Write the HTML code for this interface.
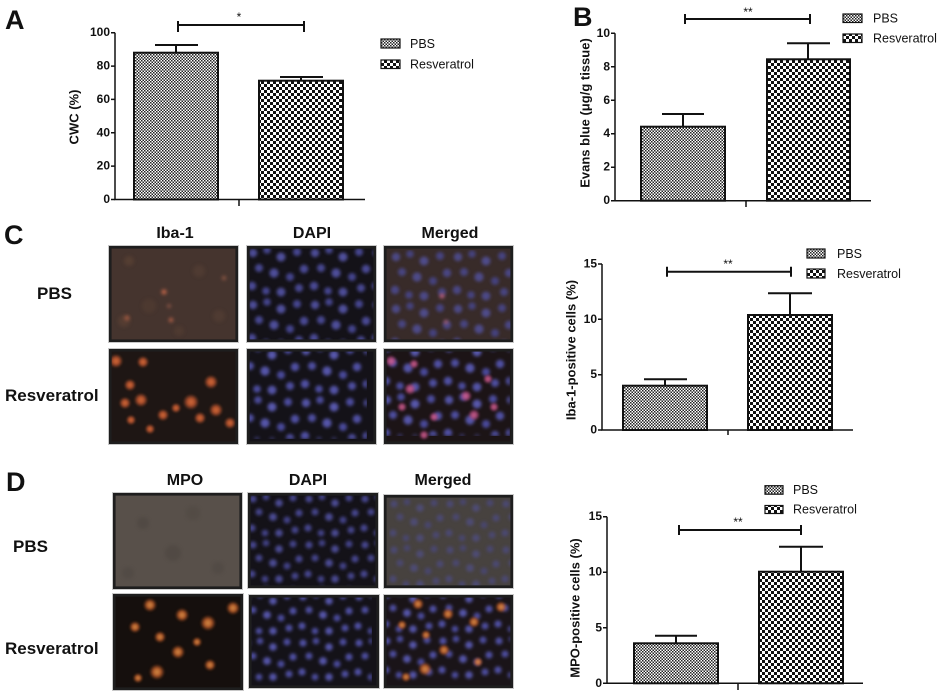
<!DOCTYPE html>
<html><head><meta charset="utf-8"><style>
html,body{margin:0;padding:0;background:#fff;}
svg{display:block;font-family:"Liberation Sans",Arial,sans-serif;}
.t{font-size:12px;font-weight:bold;fill:#111;}
.lg{font-size:12.5px;fill:#111;}
.yl{font-size:13px;font-weight:bold;fill:#111;}
.pl{font-size:27px;font-weight:bold;fill:#111;}
.hd{font-size:16px;font-weight:bold;fill:#111;}
.rl{font-size:17px;font-weight:bold;fill:#111;}
.ax{stroke:#111;stroke-width:1.5;fill:none;}
.eb{stroke:#111;stroke-width:2;fill:none;}
</style></head><body>
<svg width="942" height="697" viewBox="0 0 942 697" xmlns="http://www.w3.org/2000/svg">
<defs>
<pattern id="pbs" width="3" height="3" patternUnits="userSpaceOnUse">
<rect width="3" height="3" fill="#fff"/><rect width="1.5" height="1.5" fill="#222"/><rect x="1.5" y="1.5" width="1.5" height="1.5" fill="#222"/>
</pattern>
<pattern id="res" width="6" height="6" patternUnits="userSpaceOnUse">
<rect width="6" height="6" fill="#fff"/><rect width="3" height="3" fill="#111"/><rect x="3" y="3" width="3" height="3" fill="#111"/>
</pattern>
<pattern id="dots" width="62" height="52" patternUnits="userSpaceOnUse">
<circle cx="6" cy="7" r="4.2" fill="#5252a4"/><circle cx="20" cy="4" r="3.8" fill="#4a4a98"/>
<circle cx="34" cy="11" r="4.5" fill="#5656aa"/><circle cx="50" cy="6" r="4" fill="#4c4c9c"/>
<circle cx="57" cy="23" r="4.2" fill="#5050a2"/><circle cx="12" cy="22" r="4" fill="#4e4e9e"/>
<circle cx="27" cy="27" r="4.6" fill="#5454a8"/><circle cx="43" cy="31" r="4" fill="#4a4a9a"/>
<circle cx="5" cy="40" r="4.2" fill="#5050a2"/><circle cx="19" cy="45" r="3.8" fill="#4c4c9c"/>
<circle cx="34" cy="46" r="4.4" fill="#5252a6"/><circle cx="52" cy="42" r="4" fill="#4e4e9e"/>
</pattern>
<pattern id="dots2" width="56" height="46" patternUnits="userSpaceOnUse">
<circle cx="5" cy="6" r="3.6" fill="#5050a2"/><circle cx="18" cy="4" r="3.3" fill="#4a4a98"/>
<circle cx="31" cy="10" r="3.8" fill="#5454a8"/><circle cx="45" cy="5" r="3.5" fill="#4c4c9c"/>
<circle cx="51" cy="20" r="3.6" fill="#5050a2"/><circle cx="11" cy="19" r="3.5" fill="#4e4e9e"/>
<circle cx="25" cy="24" r="3.9" fill="#5454a8"/><circle cx="39" cy="27" r="3.5" fill="#4a4a9a"/>
<circle cx="4" cy="35" r="3.6" fill="#5050a2"/><circle cx="17" cy="40" r="3.3" fill="#4c4c9c"/>
<circle cx="31" cy="40" r="3.8" fill="#5252a6"/><circle cx="47" cy="37" r="3.5" fill="#4e4e9e"/>
</pattern>
<filter id="bl" x="0" y="0" width="100%" height="100%"><feGaussianBlur stdDeviation="1.5"/></filter>
<filter id="bl2" x="-50%" y="-50%" width="200%" height="200%"><feGaussianBlur stdDeviation="1.8"/></filter>
<filter id="bl3" x="-50%" y="-50%" width="200%" height="200%"><feGaussianBlur stdDeviation="1"/></filter>
<radialGradient id="or"><stop offset="0" stop-color="#f07840"/><stop offset="0.45" stop-color="#c85a30"/><stop offset="1" stop-color="#c85a30" stop-opacity="0"/></radialGradient>
<radialGradient id="pk"><stop offset="0" stop-color="#f070a0"/><stop offset="0.45" stop-color="#c05088"/><stop offset="1" stop-color="#c05088" stop-opacity="0"/></radialGradient>
<radialGradient id="or2"><stop offset="0" stop-color="#f0a050"/><stop offset="0.45" stop-color="#d06a30"/><stop offset="1" stop-color="#b04c20" stop-opacity="0"/></radialGradient>
</defs>

<!-- ================= Panel A ================= -->
<text class="pl" x="5" y="29">A</text>
<rect x="134" y="52.7" width="84" height="146.8" fill="url(#pbs)" stroke="#111" stroke-width="2"/>
<rect x="259" y="80.7" width="84" height="118.8" fill="url(#res)" stroke="#111" stroke-width="2"/>
<path class="eb" d="M176 52.7V45M155 45H198M301 80.7V77M280 77H323"/>
<path class="ax" d="M115 32.7V199.5H365M239 199.5V206"/>
<path class="ax" d="M111 32.7H115M111 66.1H115M111 99.4H115M111 132.8H115M111 166.1H115M111 199.5H115"/>
<g class="t" text-anchor="end" dominant-baseline="middle">
<text x="110" y="33">100</text><text x="110" y="66.5">80</text><text x="110" y="99.8">60</text>
<text x="110" y="133.2">40</text><text x="110" y="166.5">20</text><text x="110" y="199.8">0</text>
</g>
<text class="yl" transform="translate(75,117) rotate(-90)" text-anchor="middle" dominant-baseline="middle">CWC (%)</text>
<path class="eb" d="M178 25H304M178 21V32M304 21V32"/>
<text x="239" y="21" text-anchor="middle" font-size="12" fill="#111">*</text>
<rect x="381" y="39" width="19" height="9" fill="url(#pbs)" stroke="#111" stroke-width="1.2"/>
<rect x="381" y="60" width="19" height="8.5" fill="url(#res)" stroke="#111" stroke-width="1.2"/>
<text class="lg" x="410" y="48">PBS</text>
<text class="lg" x="410" y="68.5">Resveratrol</text>

<!-- ================= Panel B ================= -->
<text class="pl" x="573" y="26">B</text>
<rect x="641" y="126.7" width="84" height="74" fill="url(#pbs)" stroke="#111" stroke-width="2"/>
<rect x="767" y="59.3" width="83" height="141.4" fill="url(#res)" stroke="#111" stroke-width="2"/>
<path class="eb" d="M683 126.7V114M662 114H704M808 59.3V43.3M787 43.3H830"/>
<path class="ax" d="M615 33.3V200.7H871M746 200.7V207"/>
<path class="ax" d="M611 33.3H615M611 66.8H615M611 100.3H615M611 133.7H615M611 167.2H615M611 200.7H615"/>
<g class="t" text-anchor="end" dominant-baseline="middle">
<text x="610" y="33.6">10</text><text x="610" y="67.1">8</text><text x="610" y="100.6">6</text>
<text x="610" y="134">4</text><text x="610" y="167.5">2</text><text x="610" y="201">0</text>
</g>
<text class="yl" transform="translate(586,113) rotate(-90)" text-anchor="middle" dominant-baseline="middle">Evans blue (μg/g tissue)</text>
<path class="eb" d="M685 19H810M685 14V24M810 14V24"/>
<text x="748" y="16" text-anchor="middle" font-size="12" fill="#111">**</text>
<rect x="843" y="14" width="19" height="8.5" fill="url(#pbs)" stroke="#111" stroke-width="1.2"/>
<rect x="843" y="34" width="19" height="8.5" fill="url(#res)" stroke="#111" stroke-width="1.2"/>
<text class="lg" x="873" y="22.5">PBS</text>
<text class="lg" x="873" y="42.5">Resveratrol</text>

<!-- ================= Panel C chart ================= -->
<rect x="623" y="385.7" width="84" height="44.3" fill="url(#pbs)" stroke="#111" stroke-width="2"/>
<rect x="748" y="315" width="84" height="115" fill="url(#res)" stroke="#111" stroke-width="2"/>
<path class="eb" d="M665 385.7V379.3M644 379.3H687M790 315V293.3M768 293.3H812"/>
<path class="ax" d="M602 264V430H853M728 430V435"/>
<path class="ax" d="M598 264H602M598 319.3H602M598 374.7H602M598 430H602"/>
<g class="t" text-anchor="end" dominant-baseline="middle">
<text x="597" y="264.3">15</text><text x="597" y="319.6">10</text><text x="597" y="375">5</text><text x="597" y="430.3">0</text>
</g>
<text class="yl" transform="translate(572,350) rotate(-90)" text-anchor="middle" dominant-baseline="middle">Iba-1-positive cells (%)</text>
<path class="eb" d="M667 271.7H791M667 266.7V276.7M791 266.7V276.7"/>
<text x="728" y="268" text-anchor="middle" font-size="12" fill="#111">**</text>
<rect x="807" y="249" width="18" height="9" fill="url(#pbs)" stroke="#111" stroke-width="1.2"/>
<rect x="807" y="269" width="18" height="9" fill="url(#res)" stroke="#111" stroke-width="1.2"/>
<text class="lg" x="837" y="258">PBS</text>
<text class="lg" x="837" y="278">Resveratrol</text>

<!-- ================= Panel D chart ================= -->
<rect x="634" y="643.3" width="84" height="40" fill="url(#pbs)" stroke="#111" stroke-width="2"/>
<rect x="759" y="571.7" width="84" height="111.6" fill="url(#res)" stroke="#111" stroke-width="2"/>
<path class="eb" d="M676 643.3V635.7M655 635.7H697M801 571.7V546.7M779 546.7H823"/>
<path class="ax" d="M607 516.7V683.3H863M738 683.3V690"/>
<path class="ax" d="M603 516.7H607M603 572.2H607M603 627.8H607M603 683.3H607"/>
<g class="t" text-anchor="end" dominant-baseline="middle">
<text x="602" y="517">15</text><text x="602" y="572.5">10</text><text x="602" y="628.1">5</text><text x="602" y="683.6">0</text>
</g>
<text class="yl" transform="translate(576,608) rotate(-90)" text-anchor="middle" dominant-baseline="middle">MPO-positive cells (%)</text>
<path class="eb" d="M679 530H801M679 525V535M801 525V535"/>
<text x="738" y="526" text-anchor="middle" font-size="12" fill="#111">**</text>
<rect x="765" y="485.7" width="18" height="8.5" fill="url(#pbs)" stroke="#111" stroke-width="1.2"/>
<rect x="765" y="505.5" width="18" height="8" fill="url(#res)" stroke="#111" stroke-width="1.2"/>
<text class="lg" x="793" y="494">PBS</text>
<text class="lg" x="793" y="513.5">Resveratrol</text>

<!-- ================= Panel C images ================= -->
<text class="pl" x="4" y="244">C</text>
<g class="hd" text-anchor="middle">
<text x="175" y="238">Iba-1</text><text x="312" y="238">DAPI</text><text x="450" y="238">Merged</text>
</g>
<text class="rl" x="37" y="299">PBS</text>
<text class="rl" x="5" y="401">Resveratrol</text>

<!-- C Iba-1 PBS -->
<svg x="109" y="246" width="129" height="96" viewBox="0 0 129 96">
<rect width="129" height="96" fill="#45342e"/>
<g filter="url(#bl2)" opacity="0.6">
<circle cx="20" cy="15" r="5" fill="#5e4436"/><circle cx="90" cy="25" r="6" fill="#564034"/>
<circle cx="40" cy="60" r="7" fill="#533c32"/><circle cx="110" cy="70" r="6" fill="#564034"/>
<circle cx="70" cy="85" r="5" fill="#553e33"/><circle cx="15" cy="75" r="6" fill="#5e4236"/>
</g>
<g filter="url(#bl2)">
<circle cx="55" cy="46" r="2.5" fill="#c8684a"/><circle cx="62" cy="74" r="2.2" fill="#b86448"/>
<circle cx="18" cy="72" r="2.5" fill="#a05840"/><circle cx="60" cy="60" r="1.8" fill="#98584a"/>
<circle cx="115" cy="32" r="2" fill="#945a46"/>
</g>
</svg>
<!-- C DAPI PBS -->
<svg x="247" y="246" width="129" height="96" viewBox="0 0 129 96">
<rect width="129" height="96" fill="#141218"/>
<rect width="129" height="96" fill="url(#dots)" filter="url(#bl)" opacity="0.9"/>
</svg>
<!-- C Merged PBS -->
<svg x="384" y="246" width="129" height="96" viewBox="0 0 129 96">
<rect width="129" height="96" fill="#382b29"/>
<rect width="129" height="96" fill="url(#dots)" filter="url(#bl)" opacity="0.75" transform="translate(6,4)"/>
<g filter="url(#bl2)"><circle cx="58" cy="50" r="2.5" fill="#c0607a"/><circle cx="62" cy="76" r="2" fill="#b06070"/></g>
</svg>
<!-- C Iba-1 Resv -->
<svg x="109" y="349" width="129" height="95" viewBox="0 0 129 95">
<rect width="129" height="95" fill="#1e1614"/>
<g opacity="0.85" filter="url(#bl3)">
<circle cx="7" cy="12" r="7" fill="url(#or)"/><circle cx="34" cy="13" r="6" fill="url(#or)"/>
<circle cx="21" cy="36" r="6" fill="url(#or)"/><circle cx="32" cy="51" r="7" fill="url(#or)"/>
<circle cx="16" cy="54" r="6" fill="url(#or)"/><circle cx="54" cy="66" r="6" fill="url(#or)"/>
<circle cx="82" cy="53" r="8" fill="url(#or)"/><circle cx="102" cy="33" r="7" fill="url(#or)"/>
<circle cx="107" cy="61" r="7" fill="url(#or)"/><circle cx="91" cy="69" r="6" fill="url(#or)"/>
<circle cx="22" cy="71" r="5" fill="url(#or)"/><circle cx="121" cy="74" r="6" fill="url(#or)"/>
<circle cx="67" cy="59" r="5" fill="url(#or)"/><circle cx="41" cy="80" r="5" fill="url(#or)"/>
</g>
</svg>
<!-- C DAPI Resv -->
<svg x="247" y="349" width="129" height="95" viewBox="0 0 129 95">
<rect width="129" height="95" fill="#141218"/>
<rect width="129" height="95" fill="url(#dots)" filter="url(#bl)" transform="translate(-9,-5)"/>
</svg>
<!-- C Merged Resv -->
<svg x="384" y="349" width="129" height="95" viewBox="0 0 129 95">
<rect width="129" height="95" fill="#1c1416"/>
<rect width="129" height="95" fill="url(#dots)" filter="url(#bl)" transform="translate(-3,-8)"/>
<g opacity="0.8" filter="url(#bl3)">
<circle cx="7" cy="12" r="6" fill="url(#pk)"/><circle cx="30" cy="15" r="5" fill="url(#pk)"/>
<circle cx="26" cy="40" r="6" fill="url(#pk)"/><circle cx="18" cy="58" r="5" fill="url(#pk)"/>
<circle cx="82" cy="47" r="6" fill="url(#pk)"/><circle cx="104" cy="30" r="5" fill="url(#pk)"/>
<circle cx="90" cy="66" r="6" fill="url(#pk)"/><circle cx="110" cy="58" r="5" fill="url(#pk)"/>
<circle cx="50" cy="68" r="5" fill="url(#pk)"/><circle cx="40" cy="86" r="5" fill="url(#pk)"/>
</g>
</svg>

<!-- ================= Panel D images ================= -->
<text class="pl" x="6" y="491">D</text>
<g class="hd" text-anchor="middle">
<text x="185" y="485">MPO</text><text x="308" y="485">DAPI</text><text x="443" y="485">Merged</text>
</g>
<text class="rl" x="13" y="552">PBS</text>
<text class="rl" x="5" y="654">Resveratrol</text>

<!-- D MPO PBS -->
<svg x="113" y="493" width="129" height="96" viewBox="0 0 129 96">
<rect width="129" height="96" fill="#58504a"/>
<g filter="url(#bl2)" opacity="0.45">
<circle cx="30" cy="30" r="6" fill="#4a423e"/><circle cx="80" cy="20" r="7" fill="#4e4640"/>
<circle cx="60" cy="60" r="8" fill="#4a423d"/><circle cx="105" cy="75" r="6" fill="#4c443f"/>
<circle cx="15" cy="80" r="6" fill="#4c4440"/>
</g>
</svg>
<!-- D DAPI PBS -->
<svg x="248" y="493" width="130" height="95" viewBox="0 0 130 95">
<rect width="130" height="95" fill="#141218"/>
<rect width="130" height="95" fill="url(#dots2)" filter="url(#bl)" opacity="0.85"/>
</svg>
<!-- D Merged PBS -->
<svg x="384" y="495" width="129" height="93" viewBox="0 0 129 93">
<rect width="129" height="93" fill="#47423f"/>
<rect width="129" height="93" fill="url(#dots2)" filter="url(#bl)" opacity="0.5" transform="translate(5,3)"/>
</svg>
<!-- D MPO Resv -->
<svg x="113" y="594" width="130" height="96" viewBox="0 0 130 96">
<rect width="130" height="96" fill="#150f0d"/>
<g opacity="0.85" filter="url(#bl3)">
<circle cx="37" cy="11" r="7" fill="url(#or2)"/><circle cx="69" cy="21" r="7" fill="url(#or2)"/>
<circle cx="22" cy="33" r="6" fill="url(#or2)"/><circle cx="47" cy="43" r="6" fill="url(#or2)"/>
<circle cx="95" cy="29" r="8" fill="url(#or2)"/><circle cx="120" cy="14" r="7" fill="url(#or2)"/>
<circle cx="65" cy="58" r="7" fill="url(#or2)"/><circle cx="84" cy="48" r="5" fill="url(#or2)"/>
<circle cx="44" cy="78" r="8" fill="url(#or2)"/><circle cx="97" cy="71" r="6" fill="url(#or2)"/>
<circle cx="25" cy="84" r="5" fill="url(#or2)"/>
</g>
</svg>
<!-- D DAPI Resv -->
<svg x="249" y="595" width="130" height="93" viewBox="0 0 130 93">
<rect width="130" height="93" fill="#141218"/>
<rect width="130" height="93" fill="url(#dots2)" filter="url(#bl)" transform="translate(-7,-4)"/>
</svg>
<!-- D Merged Resv -->
<svg x="384" y="595" width="129" height="93" viewBox="0 0 129 93">
<rect width="129" height="93" fill="#1a1418"/>
<rect width="129" height="93" fill="url(#dots2)" filter="url(#bl)" transform="translate(-2,-6)"/>
<g opacity="0.85" filter="url(#bl3)">
<circle cx="34" cy="9" r="6" fill="url(#or2)"/><circle cx="64" cy="19" r="6" fill="url(#or2)"/>
<circle cx="18" cy="30" r="5" fill="url(#or2)"/><circle cx="42" cy="40" r="5" fill="url(#or2)"/>
<circle cx="90" cy="27" r="6" fill="url(#or2)"/><circle cx="117" cy="12" r="6" fill="url(#or2)"/>
<circle cx="60" cy="55" r="6" fill="url(#or2)"/><circle cx="41" cy="74" r="7" fill="url(#or2)"/>
<circle cx="94" cy="67" r="5" fill="url(#or2)"/><circle cx="22" cy="82" r="5" fill="url(#or2)"/>
</g>
</svg>

<!-- image frames -->
<g fill="none">
<g stroke="#c8c8c8" stroke-width="1">
<rect x="108.5" y="245.5" width="130" height="97"/><rect x="246.5" y="245.5" width="130" height="97"/><rect x="383.5" y="245.5" width="130" height="97"/>
<rect x="108.5" y="348.5" width="130" height="96"/><rect x="246.5" y="348.5" width="130" height="96"/><rect x="383.5" y="348.5" width="130" height="96"/>
<rect x="112.5" y="492.5" width="130" height="97"/><rect x="247.5" y="492.5" width="131" height="96"/><rect x="383.5" y="494.5" width="130" height="94"/>
<rect x="112.5" y="593.5" width="131" height="97"/><rect x="248.5" y="594.5" width="131" height="94"/><rect x="383.5" y="594.5" width="130" height="94"/>
</g>
<g stroke="#1e1e1e" stroke-width="2.6">
<rect x="110.3" y="247.3" width="126.4" height="93.4"/><rect x="248.3" y="247.3" width="126.4" height="93.4"/><rect x="385.3" y="247.3" width="126.4" height="93.4"/>
<rect x="110.3" y="350.3" width="126.4" height="92.4"/><rect x="248.3" y="350.3" width="126.4" height="92.4"/><rect x="385.3" y="350.3" width="126.4" height="92.4"/>
<rect x="114.3" y="494.3" width="126.4" height="93.4"/><rect x="249.3" y="494.3" width="127.4" height="92.4"/><rect x="385.3" y="496.3" width="126.4" height="90.4"/>
<rect x="114.3" y="595.3" width="127.4" height="93.4"/><rect x="250.3" y="596.3" width="127.4" height="90.4"/><rect x="385.3" y="596.3" width="126.4" height="90.4"/>
</g>
</g>
</svg>
</body></html>
